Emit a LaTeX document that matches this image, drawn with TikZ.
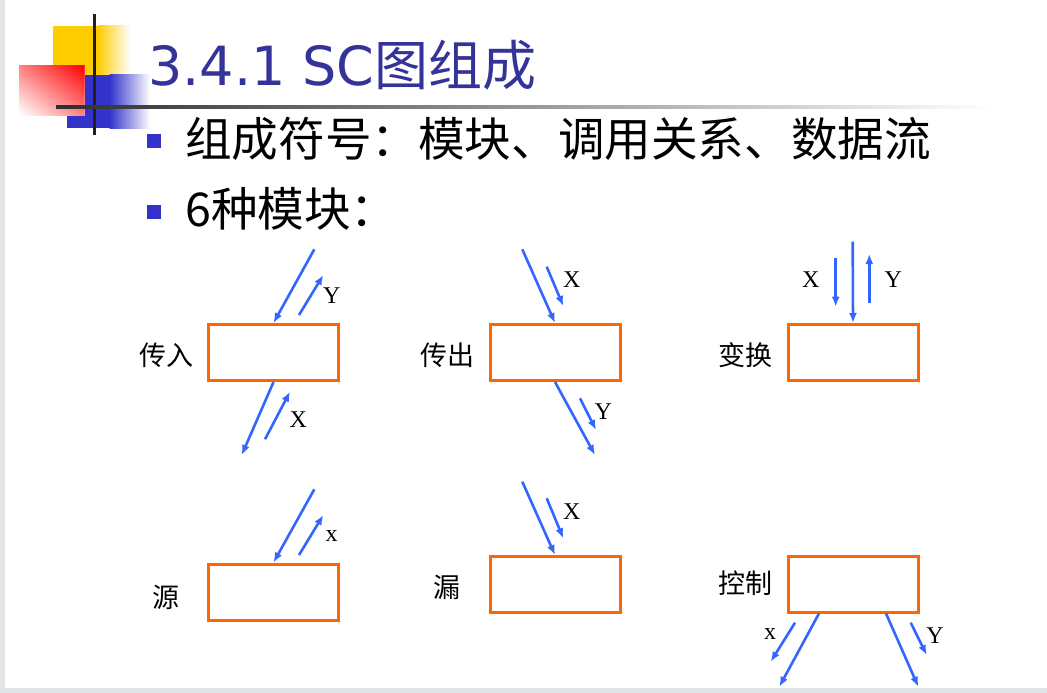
\documentclass[tikz,border=0pt]{standalone}
\usepackage{fontspec}
\setmainfont{Liberation Serif}
\newfontfamily\cjk{Noto Sans CJK SC}
\newfontfamily\titlefont{DejaVu Sans}
\usetikzlibrary{arrows.meta,calc}
\definecolor{boxorange}{HTML}{FF6600}
\definecolor{arrowblue}{HTML}{3366FF}
\definecolor{titleblue}{HTML}{333399}
\definecolor{bulletblue}{HTML}{3333CC}
\definecolor{decoyellow}{HTML}{FFCC00}
\definecolor{frame}{HTML}{E3E4E6}
\begin{document}
\begin{tikzpicture}[x=1pt,y=-1pt,
  modbox/.style={draw=boxorange, line width=3pt, minimum width=130pt, minimum height=56pt, inner sep=0pt},
  dflow/.style={draw=arrowblue, line width=2.6pt, -{Latex[length=10pt,width=8pt]}},
  cjklabel/.style={font=\cjk\fontsize{27}{30}\selectfont, inner sep=0pt},
  varlabel/.style={font=\fontsize{24}{26}\selectfont, inner sep=0pt},
  bullet/.style={fill=bulletblue, minimum size=14pt, inner sep=0pt}]
\useasboundingbox (0,0) rectangle (1047,693);
\fill[white] (0,0) rectangle (1047,693);
\fill[frame] (0,0) rectangle (5,693);
\fill[frame] (0,688) rectangle (1047,693);
% decoration
\fill[decoyellow] (53,26) rectangle (98,75);
\shade[left color=decoyellow, right color=white] (97.5,26) rectangle (130,75);
\fill[bulletblue] (67,75) rectangle (110,128);
\shade[left color=bulletblue, right color=white] (109.5,75) rectangle (150,128);
\begin{scope}
  \clip (19,66) rectangle (84,115);
  \foreach \k in {0,...,40}{
    \pgfmathsetmacro\tt{\k/40}
    \pgfmathsetmacro\cc{100*\k/40}
    \fill[red!\cc!white] ($(19,115)+(0,-98*\tt)+(-325,-245)$) -- ++(650,490) -- ++(245,-325) -- ++(-650,-490) -- cycle;
  }
\end{scope}
\fill[black!88] (92.5,14) rectangle (95.5,135);
\shade[left color=black!82, middle color=black!65, right color=white] (56,105.5) rectangle (993,108.5);
% title and bullets
\node[anchor=base west, inner sep=0pt, text=titleblue] (title) at (148,85)
  {\fontsize{54}{60}\selectfont\titlefont 3.4.1 SC\cjk 图组成};
\node[bullet] (bu1) at (154,141) {};
\node[bullet] (bu2) at (154,212) {};
\node[anchor=base west, inner sep=0pt, font=\cjk\fontsize{46.6}{50}\selectfont] (l1) at (185,156)
  {组成符号：模块、调用关系、数据流};
\node[anchor=base west, inner sep=0pt, font=\cjk\fontsize{46.6}{50}\selectfont] (l2) at (185,226)
  {6种模块：};
% modules
\node[modbox] (b1) at (273.5,352.5) {};
\node[modbox] (b2) at (555,352.5) {};
\node[modbox] (b3) at (853,352.5) {};
\node[modbox] (b4) at (273.5,592) {};
\node[modbox] (b5) at (555,584.5) {};
\node[modbox] (b6) at (853,584) {};
\node[cjklabel] (t1) at (166,355) {传入};
\node[cjklabel] (t2) at (447,355) {传出};
\node[cjklabel] (t3) at (745,355) {变换};
\node[cjklabel] (t4) at (166,597) {源};
\node[cjklabel] (t5) at (447,587) {漏};
\node[cjklabel] (t6) at (745,583) {控制};
% box 1
\coordinate (b1in) at (314.3,249.3);
\coordinate (b1ya) at (299,315);
\coordinate (b1yb) at (323.3,275);
\coordinate (b1out) at (241.7,455);
\coordinate (b1xa) at (265,439.3);
\coordinate (b1xb) at (290,391.7);
\draw[dflow] (b1in) -- (b1.north);
\draw[dflow] (b1ya) -- (b1yb);
\draw[dflow] (b1.south) -- (b1out);
\draw[dflow] (b1xa) -- (b1xb);
\node[varlabel] (v1y) at (331.7,296) {Y};
\node[varlabel] (v1x) at (298.3,420) {X};
% box 2
\coordinate (b2in) at (522.3,249.3);
\coordinate (b2xa) at (546.7,266.7);
\coordinate (b2xb) at (563.3,306);
\coordinate (b2out) at (595,455);
\coordinate (b2ya) at (580,398.3);
\coordinate (b2yb) at (596,430);
\draw[dflow] (b2in) -- (b2.north);
\draw[dflow] (b2xa) -- (b2xb);
\draw[dflow] (b2.south) -- (b2out);
\draw[dflow] (b2ya) -- (b2yb);
\node[varlabel] (v2x) at (571.7,280) {X};
\node[varlabel] (v2y) at (603.3,411.7) {Y};
% box 3
\coordinate (b3in) at (852.7,241.7);
\coordinate (b3xa) at (835.7,258.3);
\coordinate (b3xb) at (835.7,306.7);
\coordinate (b3ya) at (869.3,302.7);
\coordinate (b3yb) at (869.3,254);
\draw[dflow] (b3in) -- (b3.north);
\draw[dflow] (b3xa) -- (b3xb);
\draw[dflow] (b3ya) -- (b3yb);
\node[varlabel] (v3x) at (810.7,280) {X};
\node[varlabel] (v3y) at (893.3,280) {Y};
% box 4
\coordinate (b4in) at (314.3,489.3);
\coordinate (b4xa) at (299,555);
\coordinate (b4xb) at (323.3,515);
\draw[dflow] (b4in) -- (b4.north);
\draw[dflow] (b4xa) -- (b4xb);
\node[varlabel] (v4x) at (331.7,536) {x};
% box 5
\coordinate (b5in) at (522.3,481.7);
\coordinate (b5xa) at (546.7,498.3);
\coordinate (b5xb) at (563.3,538.3);
\draw[dflow] (b5in) -- (b5.north);
\draw[dflow] (b5xa) -- (b5xb);
\node[varlabel] (v5x) at (571.7,511.7) {X};
% box 6
\coordinate (b6l) at ($(b6.south)+(-34,0)$);
\coordinate (b6r) at ($(b6.south)+(33,0)$);
\coordinate (b6lo) at (779.3,686.7);
\coordinate (b6ro) at (918.3,686.7);
\coordinate (b6xa) at (795,622.7);
\coordinate (b6xb) at (770.7,661.7);
\coordinate (b6ya) at (910.7,622.7);
\coordinate (b6yb) at (926.7,655);
\draw[dflow] (b6l) -- (b6lo);
\draw[dflow] (b6r) -- (b6ro);
\draw[dflow] (b6xa) -- (b6xb);
\draw[dflow] (b6ya) -- (b6yb);
\node[varlabel] (v6x) at (770,634) {x};
\node[varlabel] (v6y) at (935,636) {Y};
\end{tikzpicture}
\end{document}
